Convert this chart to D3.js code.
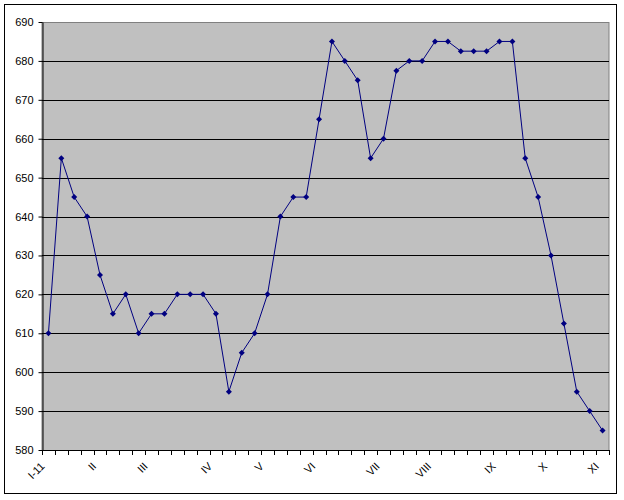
<!DOCTYPE html>
<html>
<head>
<meta charset="utf-8">
<script src="https://cdn.jsdelivr.net/npm/d3@7"></script>
<style>
  body { margin: 0; background: #fff; }
  svg { display: block; font-family: "Liberation Sans", Arial, sans-serif; }
</style>
</head>
<body>
<svg id="chart" width="624" height="500"></svg>
<script>
// weekly values
var values = [610, 655, 645, 640, 625, 615, 620, 610, 615, 615,
              620, 620, 620, 615, 595, 605, 610, 620, 640, 645,
              645, 665, 685, 680, 675, 655, 660, 677.5, 680, 680,
              685, 685, 682.5, 682.5, 682.5, 685, 685, 655, 645, 630,
              612.5, 595, 590, 585];

// month labels and the week they sit on
var monthLabels = ["I-11", "II", "III", "IV", "V", "VI", "VII", "VIII", "IX", "X", "XI"];
var monthWeek   = [0, 4, 8, 13, 17, 21, 26, 30, 35, 39, 43];

var yTicks = d3.range(580, 691, 10);

var svg = d3.select("#chart");
// note: "top" is taken by window.top, so prefix these
var pLeft = 42, pRight = 609, pTop = 22, pBottom = 450;

// chart border
svg.append("rect")
  .attr("x", 4.5).attr("y", 4.5)
  .attr("width", 612).attr("height", 489)
  .attr("fill", "#fff").attr("stroke", "#000");

var x = d3.scaleBand()
  .domain(d3.range(values.length))
  .range([pLeft, pRight])
  .padding(0);

var y = d3.scaleLinear()
  .domain([580, 690])
  .range([pBottom, pTop]);

// plot area
svg.append("rect")
  .attr("x", pLeft).attr("y", pTop + 0.5)
  .attr("width", pRight - pLeft).attr("height", pBottom - pTop)
  .attr("fill", "#c0c0c0").attr("stroke", "#808080");

// gridlines
svg.append("g").selectAll("line")
  .data(yTicks.slice(1, -1))
  .join("line")
  .attr("x1", pLeft).attr("x2", pRight)
  .attr("y1", d => Math.round(y(d)) + 0.5)
  .attr("y2", d => Math.round(y(d)) + 0.5)
  .attr("stroke", "#000");

// y axis
var yAxis = svg.append("g")
  .attr("transform", `translate(${pLeft + 0.5},0)`)
  .call(d3.axisLeft(y).tickValues(yTicks).tickSize(4).tickPadding(5).tickSizeOuter(0));
yAxis.select(".domain").attr("stroke", "#000");
yAxis.selectAll("text")
  .attr("font-size", 11)
  .attr("font-family", "Liberation Sans, Arial, sans-serif")
  .attr("fill", "#000");

// x axis line
svg.append("line")
  .attr("x1", pLeft).attr("x2", pRight + 1)
  .attr("y1", pBottom + 0.5).attr("y2", pBottom + 0.5)
  .attr("stroke", "#000");

// x tick marks at category edges
var edges = d3.range(values.length + 1).map(i => i < values.length ? x(i) : x(i - 1) + x.bandwidth());
svg.append("g").selectAll("line")
  .data(edges)
  .join("line")
  .attr("x1", d => Math.round(d) + 0.5).attr("x2", d => Math.round(d) + 0.5)
  .attr("y1", pBottom).attr("y2", pBottom + 5)
  .attr("stroke", "#000");

// x labels, rotated
svg.append("g").selectAll("text")
  .data(monthLabels)
  .join("text")
  .attr("transform", (d, i) => `translate(${x(monthWeek[i]) + x.bandwidth() / 2 - 3},${pBottom + 17}) rotate(-45)`)
  .attr("text-anchor", "end")
  .attr("font-size", 11)
  .attr("fill", "#000")
  .text(d => d);

// line
var line = d3.line()
  .x((d, i) => x(i) + x.bandwidth() / 2)
  .y(d => y(d));

svg.append("path")
  .datum(values)
  .attr("d", line)
  .attr("fill", "none")
  .attr("stroke", "#000080")
  .attr("stroke-width", 1);

// diamond markers
svg.append("g").selectAll("path")
  .data(values)
  .join("path")
  .attr("transform", (d, i) => `translate(${x(i) + x.bandwidth() / 2},${y(d)})`)
  .attr("d", "M0,-3L3,0L0,3L-3,0Z")
  .attr("fill", "#000080");
</script>
</body>
</html>
